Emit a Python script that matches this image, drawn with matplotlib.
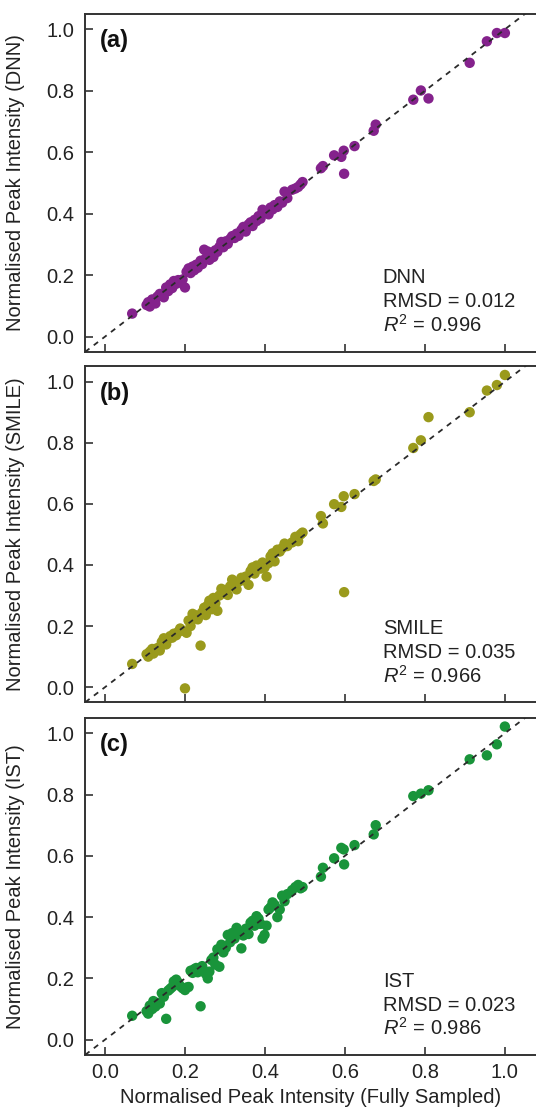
import matplotlib
matplotlib.use("Agg")
import matplotlib.pyplot as plt

plt.rcParams['font.family'] = ['Liberation Sans', 'DejaVu Sans']
plt.rcParams['mathtext.fontset'] = 'custom'
plt.rcParams['mathtext.rm'] = 'Liberation Sans'
plt.rcParams['mathtext.it'] = 'Liberation Sans:italic'

# peak intensities from the fully sampled spectrum (shared x for all panels)
full = [0.068, 0.104, 0.108, 0.112, 0.118, 0.121, 0.126, 0.131, 0.137, 0.142,
        0.147, 0.153, 0.158, 0.163, 0.168, 0.172, 0.178, 0.183, 0.188, 0.194,
        0.200, 0.204, 0.209, 0.214, 0.219, 0.223, 0.228, 0.232, 0.239, 0.243,
        0.248, 0.252, 0.257, 0.261, 0.266, 0.271, 0.276, 0.281, 0.286, 0.291,
        0.296, 0.302, 0.307, 0.313, 0.318, 0.324, 0.329, 0.334, 0.341, 0.346,
        0.352, 0.359, 0.364, 0.369, 0.374, 0.379, 0.384, 0.389, 0.394, 0.399,
        0.404, 0.409, 0.414, 0.419, 0.424, 0.431, 0.437, 0.443, 0.449, 0.456,
        0.468, 0.476, 0.483, 0.489, 0.494, 0.540, 0.545, 0.573, 0.591, 0.597,
        0.598, 0.624, 0.672, 0.677, 0.771, 0.790, 0.809, 0.912, 0.955, 0.980,
        1.000]

dnn = [0.075, 0.103, 0.112, 0.098, 0.121, 0.115, 0.108, 0.130, 0.139, 0.135,
       0.128, 0.160, 0.148, 0.170, 0.158, 0.181, 0.172, 0.184, 0.176, 0.186,
       0.160, 0.211, 0.222, 0.207, 0.228, 0.216, 0.234, 0.224, 0.247, 0.236,
       0.283, 0.255, 0.277, 0.250, 0.268, 0.259, 0.281, 0.276, 0.292, 0.308,
       0.291, 0.310, 0.302, 0.318, 0.327, 0.321, 0.335, 0.328, 0.347, 0.357,
       0.342, 0.365, 0.372, 0.360, 0.380, 0.376, 0.392, 0.384, 0.413, 0.402,
       0.408, 0.398, 0.420, 0.414, 0.428, 0.422, 0.440, 0.436, 0.472, 0.451,
       0.478, 0.482, 0.487, 0.495, 0.503, 0.548, 0.555, 0.590, 0.585, 0.605,
       0.530, 0.620, 0.670, 0.690, 0.771, 0.801, 0.775, 0.891, 0.961, 0.988,
       0.988]

smile = [0.076, 0.108, 0.100, 0.116, 0.125, 0.110, 0.120, 0.128, 0.120, 0.148,
         0.160, 0.140, 0.158, 0.167, 0.162, 0.175, 0.170, 0.181, 0.192, 0.185,
         -0.004, 0.178, 0.218, 0.200, 0.240, 0.228, 0.235, 0.222, 0.136, 0.245,
         0.260, 0.236, 0.268, 0.283, 0.255, 0.292, 0.275, 0.250, 0.300, 0.322,
         0.308, 0.318, 0.302, 0.330, 0.352, 0.340, 0.320, 0.345, 0.358, 0.350,
         0.362, 0.335, 0.380, 0.392, 0.372, 0.398, 0.396, 0.388, 0.408, 0.392,
         0.362, 0.406, 0.428, 0.438, 0.412, 0.450, 0.444, 0.455, 0.470, 0.462,
         0.474, 0.492, 0.478, 0.500, 0.506, 0.560, 0.536, 0.599, 0.590, 0.625,
         0.311, 0.632, 0.675, 0.680, 0.783, 0.808, 0.884, 0.900, 0.971, 0.989,
         1.022]

ist = [0.078, 0.093, 0.085, 0.111, 0.100, 0.126, 0.108, 0.120, 0.118, 0.152,
       0.140, 0.068, 0.160, 0.166, 0.172, 0.190, 0.196, 0.186, 0.175, 0.168,
       0.162, 0.170, 0.172, 0.225, 0.218, 0.230, 0.234, 0.220, 0.109, 0.240,
       0.225, 0.215, 0.200, 0.222, 0.260, 0.268, 0.245, 0.295, 0.238, 0.310,
       0.285, 0.300, 0.342, 0.318, 0.348, 0.330, 0.365, 0.352, 0.298, 0.340,
       0.362, 0.345, 0.382, 0.388, 0.372, 0.403, 0.395, 0.378, 0.330, 0.342,
       0.372, 0.425, 0.432, 0.448, 0.440, 0.400, 0.425, 0.470, 0.452, 0.475,
       0.488, 0.498, 0.505, 0.494, 0.498, 0.532, 0.561, 0.592, 0.626, 0.621,
       0.572, 0.635, 0.670, 0.700, 0.795, 0.803, 0.814, 0.915, 0.928, 0.964,
       1.022]

methods = ['DNN', 'SMILE', 'IST']
panel_tags = ['(a)', '(b)', '(c)']
rmsd = [0.012, 0.035, 0.023]
r2 = [0.996, 0.966, 0.986]
colors = ['#84228c', '#9a9a1c', '#19943a']
ticks = [0.0, 0.2, 0.4, 0.6, 0.8, 1.0]

fig = plt.figure(figsize=(5.36, 11.09), dpi=100)

# axes boxes: [left, bottom, width, height]
boxes = [[0.1586, 0.6826, 0.843, 0.3048],
         [0.1586, 0.3666, 0.843, 0.3030],
         [0.1586, 0.0487, 0.843, 0.3039]]

for i, (meth, yv) in enumerate(zip(methods, [dnn, smile, ist])):
    ax = fig.add_axes(boxes[i])
    # y = x reference line, drawn over the points
    ax.plot([-0.2, 1.2], [-0.2, 1.2], ls=(0, (3, 3)), color='#2a2a2a', lw=1.3, zorder=3)
    ax.scatter(full, yv, s=56, color=colors[i], edgecolors='none', zorder=2)
    ax.set_xlim(-0.05, 1.08)
    ax.set_ylim(-0.05, 1.05)
    ax.set_xticks(ticks)
    ax.set_yticks(ticks)
    ax.tick_params(direction='in', length=6, width=1.1, labelsize=14.5,
                   colors='#222222', pad=6)
    ax.tick_params(axis='y', pad=8)
    for side in ['left', 'bottom', 'top']:
        ax.spines[side].set_linewidth(1.4)
        ax.spines[side].set_color('#333333')
    ax.spines['right'].set_visible(False)
    if i < 2:
        ax.set_xticklabels([])
    else:
        ax.set_xlabel('Normalised Peak Intensity (Fully Sampled)', fontsize=14.5,
                      color='#222222', labelpad=4)
    ax.set_ylabel('Normalised Peak Intensity (%s)' % meth, fontsize=14.5,
                  color='#222222')
    ax.yaxis.set_label_coords(-0.132, 0.5)

    ax.text(0.033, 0.955, panel_tags[i], transform=ax.transAxes, fontsize=17,
            fontweight='bold', va='top', ha='left', color='#111111')
    ax.text(0.659, 0.219, meth, transform=ax.transAxes, fontsize=14.5,
            va='center', ha='left', color='#222222')
    ax.text(0.659, 0.148, 'RMSD = %.3f' % rmsd[i], transform=ax.transAxes,
            fontsize=14.5, va='center', ha='left', color='#222222')
    ax.text(0.659, 0.080, '$R^2$ = %.3f' % r2[i], transform=ax.transAxes,
            fontsize=14.5, va='center', ha='left', color='#222222')

fig.savefig('out.png', dpi=100)
